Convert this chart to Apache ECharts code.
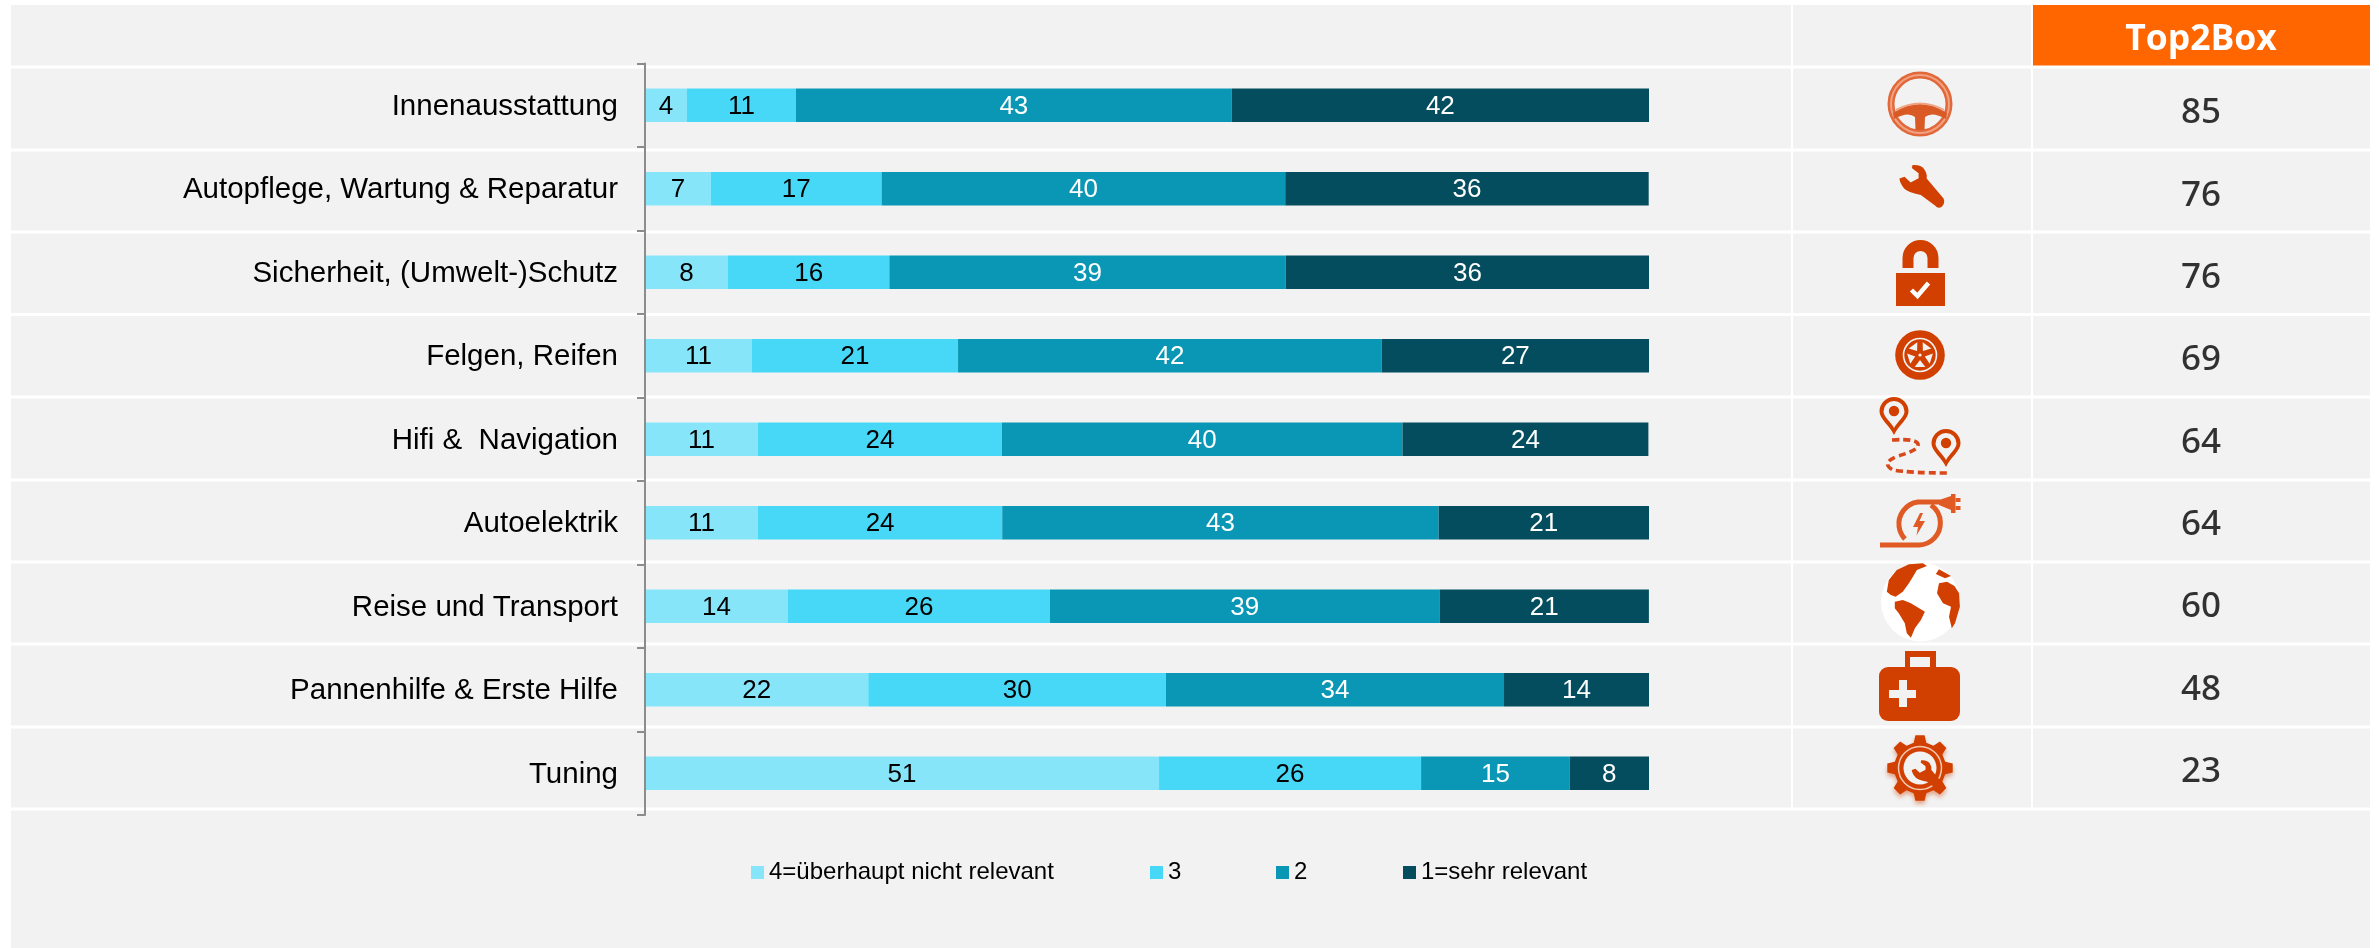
<!DOCTYPE html>
<html>
<head>
<meta charset="utf-8">
<style>html,body{margin:0;padding:0;background:#fff}#c{width:2379px;height:948px}</style>
<script src="https://cdn.jsdelivr.net/npm/echarts@6/dist/echarts.min.js"></script>
</head>
<body>
<div id="c"></div>
<script>
const categories = ['Innenausstattung','Autopflege, Wartung & Reparatur','Sicherheit, (Umwelt-)Schutz','Felgen, Reifen','Hifi &  Navigation','Autoelektrik','Reise und Transport','Pannenhilfe & Erste Hilfe','Tuning'];
const seriesNames = ['4=überhaupt nicht relevant','3','2','1=sehr relevant'];
const notRelevant = [4.18,6.57,8.27,10.66,11.25,11.25,14.24,22.24,51.2];
const value3 = [10.86,17.0,16.07,20.52,24.3,24.33,26.1,29.65,26.1];
const value2 = [43.4,40.2,39.48,42.2,39.9,43.47,38.8,33.67,14.8];
const veryRelevant = [41.56,36.2,36.18,26.63,24.49,20.95,20.85,14.44,7.9];
const top2Box = [85,76,76,69,64,64,60,48,23];
const iconKeys = ['wheel','wrench','lock','tire','route','plug','globe','aid','gear'];

const BG='#F2F2F2', ORANGE='#D14000', LIGHT='#E05A25';
const colors=['#87E5FA','#47D8F7','#0A97B5','#034D5E'];
const labelColors=['#000','#000','#fff','#fff'];
const valueSets=[notRelevant,value3,value2,veryRelevant];

function P(d,style){return {type:'path',shape:{pathData:d},style:Object.assign({fill:ORANGE},style||{})};}
function G(x,y,children,extra){return Object.assign({type:'group',x:x,y:y,children:children},extra||{});}
function C(cx,cy,r,style){return {type:'circle',shape:{cx:cx,cy:cy,r:r},style:style};}
const WRENCH='M-9.4,-20.5 Q0,-21 2.7,-15.5 Q5.5,-11 4.7,-7 L21.6,13 Q23.5,18 19.5,21.5 Q16,23.5 13,20 L-1.2,9.5 Q-8,8 -12,6.5 Q-17.5,4.5 -20,0 Q-22.5,-4 -22.6,-7 L-17.4,-8.8 L-11.4,-3 L-3.4,-7.3 L-3.4,-12.3 L-10.2,-17.5 Z';
function pin(x,y){return G(x,y,[
  P('M0,38 C-4,29 -14.5,22 -14.5,14.5 A14.5,14.5 0 1 1 14.5,14.5 C14.5,22 4,29 0,38 Z'),
  P('M0,31 C-3,25 -10.5,20 -10.5,14.5 A10.5,10.5 0 1 1 10.5,14.5 C10.5,20 3,25 0,31 Z',{fill:BG}),
  C(0,14,5.2,{fill:ORANGE})
]);}
const ICONS={
  wheel(){return G(1920,104,[
    C(0,0,29,{fill:'none',stroke:'#E2683A',lineWidth:7}),
    C(0,0,29,{fill:'none',stroke:'#F0A282',lineWidth:2}),
    P('M-27,9 Q0,-9 27,9 L26,15 Q12,7 5,13 L4.5,26 L-4.5,26 L-5,13 Q-12,7 -26,15 Z',{fill:'#D95A25'}),
    P('M-24,6 Q0,-7 24,6',{fill:'none',stroke:'#EFA585',lineWidth:2})
  ]);},
  wrench(){return G(1922,185.5,[P(WRENCH)]);},
  lock(){return G(1920.5,273,[
    P('M-18,-5 V-15 A18,18 0 0 1 18,-15 V-5 H7 V-15 A7,7 0 0 0 -7,-15 V-5 Z'),
    {type:'rect',shape:{x:-24.5,y:0,width:49,height:33},style:{fill:ORANGE}},
    P('M-9,17 L-3,23 L8,10',{fill:'none',stroke:'#fff',lineWidth:4.5})
  ]);},
  tire(){
    const kids=[C(0,0,24.8,{fill:ORANGE}),C(0,0,16.5,{fill:'none',stroke:BG,lineWidth:1.6})];
    for(let i=0;i<5;i++){
      const a=(i*72+36-90)*Math.PI/180,d=0.42;
      const p=(r,t)=>(r*Math.cos(a+t)).toFixed(1)+','+(r*Math.sin(a+t)).toFixed(1);
      kids.push(P('M'+p(5,0)+' L'+p(13,d)+' L'+p(13,-d)+' Z',{fill:BG}));
    }
    kids.push(C(0,0,1.6,{fill:BG}));
    return G(1920,355,kids);
  },
  route(){return G(0,0,[
    pin(1894,397),pin(1946,429),
    P('M1892,440 Q1920,438 1918,446 Q1916,451 1898,456 Q1880,463 1893,470 Q1910,473 1950,473',{fill:'none',stroke:'#D8481A',lineWidth:3.6,lineDash:[7,4]})
  ]);},
  plug(){return G(0,0,[
    P('M1880,545 H1919 A22,22 0 0 0 1931,505',{fill:'none',stroke:LIGHT,lineWidth:5}),
    P('M1940,502 H1918 A22,22 0 0 0 1905,539',{fill:'none',stroke:LIGHT,lineWidth:5}),
    P('M1939,500 L1951,496 V494 H1955.5 V513 H1951 V510 L1939,505 Z',{fill:LIGHT}),
    {type:'rect',shape:{x:1955.5,y:498,width:5,height:4},style:{fill:LIGHT}},
    {type:'rect',shape:{x:1955.5,y:506,width:5,height:4},style:{fill:LIGHT}},
    P('M1920,513 L1913,527 L1918,527 L1916.5,535.5 L1925,521 L1919.5,521 L1923,513 Z',{fill:LIGHT})
  ]);},
  globe(){return G(1920.5,602,[
    C(0,0,39.5,{fill:'#fff'}),
    P('M-31.7,-22 L-23.7,-32 L-11.6,-37.7 L2.4,-38.7 L6.4,-36 L-3.6,-32 L-7.6,-25.3 L-11.6,-18.7 L-17.7,-10.3 L-24.9,-5.3 L-29.7,-7 L-33.7,-10.3 Z'),
    P('M-25.7,-0.3 L-17.7,-2 L-9.6,1.3 L4.4,9.7 L0.4,18 L-5.6,26.3 L-9.6,35.7 L-13.7,31.3 L-15.7,21.3 L-21.7,11.3 L-25.7,6.3 Z'),
    P('M18.5,-18.7 L26.5,-20.3 L34,-16 L38.6,-8.7 L39.4,4.7 L34.5,21.3 L31.3,26.3 L28.5,14.7 L30.5,4.7 L22.5,1.3 L16.5,-8.7 Z'),
    P('M18.5,-32.7 L30.5,-26 L24.5,-23.7 L15.3,-28 Z')
  ]);},
  aid(){return G(0,0,[
    P('M1905,667 V651 H1936 V667 H1930 V657 H1910 V667 Z'),
    {type:'rect',shape:{x:1879,y:667,width:81,height:54,r:9},style:{fill:ORANGE}},
    P('M1899,680 H1907 V690 H1916 V698 H1907 V707 H1899 V698 H1889 V690 H1899 Z',{fill:BG})
  ]);},
  gear(){
    let d='';
    for(let i=0;i<8;i++){
      const c=i*45-90,w=(t,r)=>{const a=(c+t)*Math.PI/180;return (r*Math.cos(a)).toFixed(1)+','+(r*Math.sin(a)).toFixed(1);};
      d+=(i?'L':'M')+w(-14,26)+' L'+w(-8,33)+' L'+w(8,33)+' L'+w(14,26)+' ';
    }
    return G(1920,768,[
      P(d+'Z',{shadowBlur:4,shadowColor:'rgba(209,64,0,0.45)',shadowOffsetY:3}),
      C(0,0,21.5,{fill:'none',stroke:'#F6C9B2',lineWidth:1.5}),
      C(0,0,16.5,{fill:BG}),
      G(8,7,[P(WRENCH)],{scaleX:0.72,scaleY:0.72})
    ]);
  }
};

const rowLines=[67,150,232,314.5,397,480,562,644,727,809];
const graphics=[
  {type:'rect',z:-3,shape:{x:11,y:5,width:2359,height:943},style:{fill:BG}},
  {type:'rect',z:-2,shape:{x:2032,y:5,width:338,height:61},style:{fill:'#FF6600'}},
  {type:'text',z:3,x:2201,y:39.5,style:{text:'Top2Box',fill:'#fff',font:'bold 35.5px "Open Sans"',textAlign:'center',textVerticalAlign:'middle'}}
];
rowLines.forEach(y=>graphics.push({type:'rect',z:-1,shape:{x:11,y:y-1.5,width:2359,height:3},style:{fill:'#fff'}}));
[1792,2032].forEach(x=>graphics.push({type:'rect',z:-1,shape:{x:x-1,y:5,width:2,height:805},style:{fill:'#fff'}}));

const legendLefts=[746,1145,1271,1398];
const chart=echarts.init(document.getElementById('c'),null,{renderer:'canvas'});
chart.setOption({
  animation:false,
  backgroundColor:'#fff',
  graphic:{elements:graphics},
  grid:[
    {left:645,top:63.5,width:1004,height:751.5,containLabel:false},
    {left:2032,top:68.8,width:338,height:741}
  ],
  legend:seriesNames.map((n,i)=>({
    data:[n],left:legendLefts[i],top:855.5,icon:'rect',itemWidth:13,itemHeight:13,
    textStyle:{fontFamily:'"Liberation Sans"',fontSize:24,color:'#000'},
    selectedMode:false
  })),
  xAxis:[
    {type:'value',gridIndex:0,min:0,max:100,show:false},
    {type:'value',gridIndex:1,min:0,max:1,show:false}
  ],
  yAxis:[
    {type:'category',gridIndex:0,inverse:true,data:categories,z:6,
      axisLine:{show:true,lineStyle:{color:'#8C8C8C',width:2}},
      axisTick:{show:true,length:8,lineStyle:{color:'#8C8C8C',width:2}},
      axisLabel:{margin:27,color:'#000',fontFamily:'"Liberation Sans"',fontSize:29.5,verticalAlign:'top',lineHeight:3},
      splitLine:{show:false}},
    {type:'category',gridIndex:1,inverse:true,data:categories,show:false}
  ],
  series:[
    ...seriesNames.map((n,i)=>({
      name:n,type:'bar',stack:'total',xAxisIndex:0,yAxisIndex:0,barWidth:33.5,
      data:valueSets[i],itemStyle:{color:colors[i]},
      label:{show:true,position:'inside',offset:[0,1.5],color:labelColors[i],fontFamily:'"Liberation Sans"',fontSize:26,
        formatter:p=>String(Math.round(p.value))}
    })),
    {type:'scatter',name:'Top2Box',xAxisIndex:1,yAxisIndex:1,symbolSize:1,itemStyle:{color:'rgba(0,0,0,0)'},silent:true,
      data:top2Box.map((v,i)=>[0.5,i]),
      label:{show:true,position:'inside',offset:[0,3.5],color:'#000',fontFamily:'"Noto Sans"',fontWeight:500,fontSize:35,
        formatter:p=>String(top2Box[p.dataIndex])}},
    {type:'custom',coordinateSystem:'none',silent:true,z:5,data:iconKeys.map((k,i)=>i),
      renderItem:params=>ICONS[iconKeys[params.dataIndex]]()}
  ]
});
</script>
</body>
</html>
